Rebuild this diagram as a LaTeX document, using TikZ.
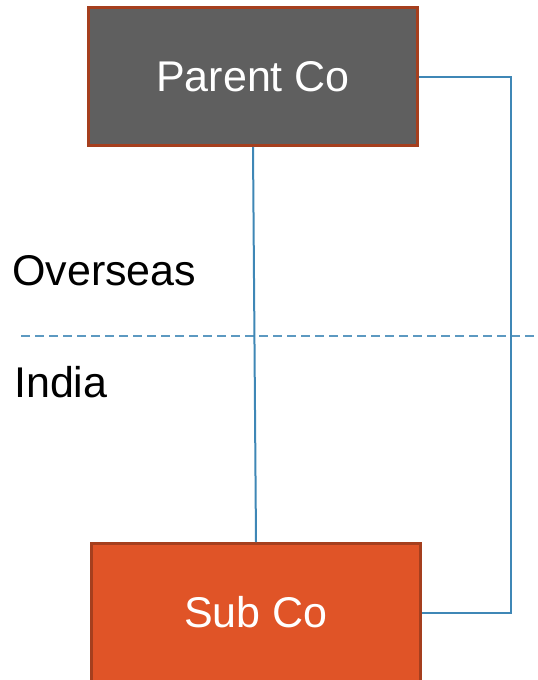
\documentclass[tikz,border=0pt]{standalone}
\usepackage{fontspec}
\setmainfont{Liberation Sans}
\definecolor{edgebrown}{HTML}{A53F1E}
\definecolor{parentgrey}{HTML}{5F5F5F}
\definecolor{suborange}{HTML}{E05427}
\definecolor{linkblue}{HTML}{3F87B6}
\tikzset{
  company/.style={draw=edgebrown, line width=3pt, minimum width=329pt,
    minimum height=138pt, inner sep=0pt, text=white,
    font=\fontsize{43}{50}\selectfont},
  region/.style={anchor=base west, inner sep=0pt, text=black,
    font=\fontsize{43}{50}\selectfont},
  link/.style={draw=linkblue, line width=2pt},
  border/.style={draw=linkblue!85, line width=2pt, dash pattern=on 9pt off 5pt}
}
\begin{document}
\begin{tikzpicture}[x=1pt, y=-1pt]
  \useasboundingbox (0,0) rectangle (538,680);
  % companies
  \node[company, fill=parentgrey] (parent) at (253,76.5) {Parent Co};
  \node[company, fill=suborange] (sub) at (256,612.5) {Sub Co};
  % jurisdiction labels and border
  \node[region] (overseas) at (12,285) {Overseas};
  \node[region] (india) at (14,397) {India};
  \coordinate (bl) at (21,336);
  \coordinate (br) at (548,336);
  \draw[border] (bl) -- (br);
  % ownership links
  \draw[link] (parent.south) -- (sub.north);
  \draw[link] (parent.east) -- (511,76.5) |- (sub.east);
\end{tikzpicture}
\end{document}
